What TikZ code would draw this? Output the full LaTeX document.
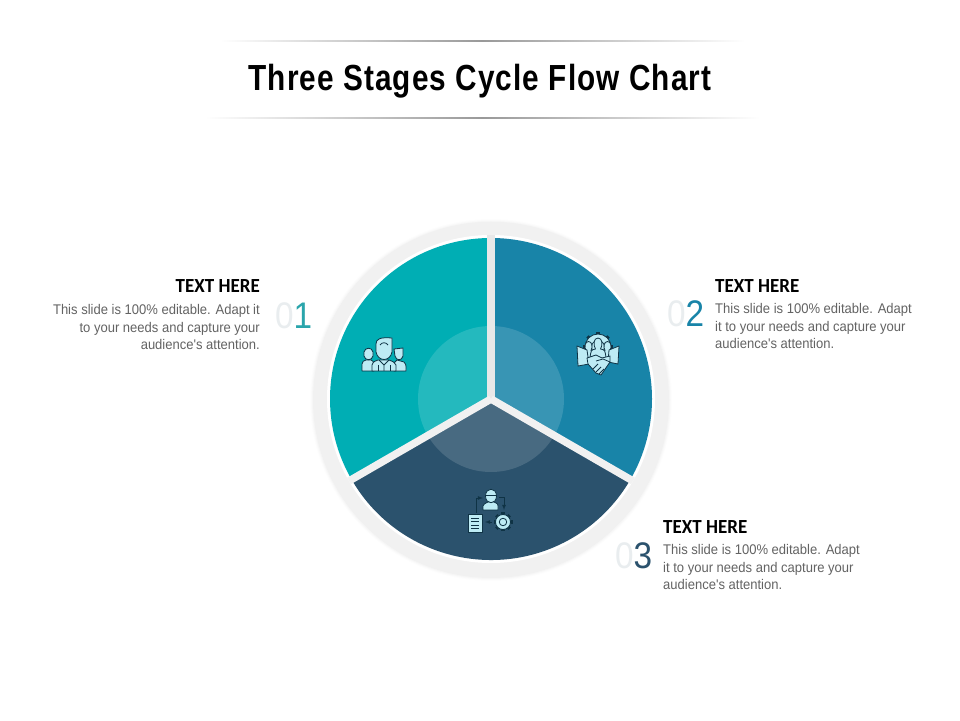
\documentclass[tikz,border=0pt]{standalone}
\usepackage{fontspec}
\setmainfont{Liberation Sans}
\newfontfamily\titlefont[FakeStretch=0.82,LetterSpace=3]{Liberation Sans}
\newfontfamily\headfont[FakeStretch=0.95]{Carlito}
\newfontfamily\bodyfont[FakeStretch=0.93]{Liberation Sans}
\newfontfamily\numfont[FakeStretch=0.9]{Liberation Sans}
\usetikzlibrary{positioning}

\definecolor{stageone}{HTML}{00AEB4}
\definecolor{stagetwo}{HTML}{1884A8}
\definecolor{stagethree}{HTML}{2B526D}
\definecolor{numone}{HTML}{2AA5AB}
\definecolor{ringgray}{HTML}{F1F1F1}
\definecolor{gapgray}{HTML}{E8E8E8}
\definecolor{bodygray}{HTML}{636363}
\definecolor{zerogray}{HTML}{E9EDEF}
\definecolor{iconfill}{HTML}{BDEBF4}
\definecolor{iconink}{HTML}{0F3345}

\tikzset{
    headtext/.style = {font = {\headfont\bfseries\fontsize{20}{22}\selectfont}, black, inner sep = 0pt},
    bodytext/.style = {font = {\bodyfont\fontsize{14}{17.7}\selectfont}, bodygray, inner sep = 0pt},
    numtext/.style = {font = {\numfont\fontsize{37}{40}\selectfont}, inner sep = 0pt},
    iconline/.style = {draw = iconink, fill = iconfill, line width = 0.8pt, line join = round},
    iconbare/.style = {draw = iconink, line width = 0.8pt, line join = round},
}

% gear in reference pixels: x, y, radius
\newcommand{\gearshape}[3]{
    \foreach \a in {0, 45, ..., 315} {
        \fill[iconink, shift = {(#1, #2)}, rotate = \a] (-1.6, #3 - 1) rectangle (1.6, #3 + 2);
    }
    \draw[iconline] (#1, #2) circle[radius = #3];
    \draw[iconbare] (#1, #2) circle[radius = #3 * 0.5];
}

\begin{document}
\begin{tikzpicture}[x = 1pt, y = 1pt]
    \useasboundingbox (0, 0) rectangle (960, 720);
    \fill[white] (0, 0) rectangle (960, 720);

    % title and its rules
    \node[font = {\titlefont\bfseries\fontsize{36.3}{40}\selectfont}, black, inner sep = 0pt] (title) at (480, 639) {Three Stages Cycle Flow Chart};
    \shade[left color = white, right color = gray!80] (220, 678.6) rectangle (482, 679.4);
    \shade[left color = gray!80, right color = white] (482, 678.6) rectangle (745, 679.4);
    \shade[left color = white, right color = gray!80] (205, 601.6) rectangle (482, 602.4);
    \shade[left color = gray!80, right color = white] (482, 601.6) rectangle (760, 602.4);

    % ring with soft shadow
    \foreach \r/\o in {181/0.008, 180/0.012, 179/0.016, 178/0.02} {
        \fill[black, opacity = \o] (491, 320) circle[radius = \r];
    }
    \fill[ringgray] (491, 321) circle[radius = 177];
    \fill[white] (491, 321) circle[radius = 164];

    % three stages
    \fill[stageone] (491, 321) -- ++(90:161) arc[start angle = 90, end angle = 210, radius = 161] -- cycle;
    \fill[stagetwo] (491, 321) -- ++(90:161) arc[start angle = 90, end angle = -30, radius = 161] -- cycle;
    \fill[stagethree] (491, 321) -- ++(210:161) arc[start angle = 210, end angle = 330, radius = 161] -- cycle;
    \fill[white, opacity = 0.14] (491, 321) circle[radius = 73];
    \draw[gapgray, line width = 7.5pt] (491, 321) -- ++(90:164);
    \draw[gapgray!60!white, line width = 7.5pt] (491, 321) -- ++(210:164);
    \draw[gapgray!60!white, line width = 7.5pt] (491, 321) -- ++(330:164);

    % texts
    \node[headtext, anchor = north east] (headone) at (260, 441) {TEXT HERE};
    \node[bodytext, anchor = north east, align = right] (bodyone) at (260, 416) {This slide is 100\% editable. Adapt it\\to your needs and capture your\\audience's attention.};
    \node[numtext, anchor = base west] (numlabelone) at (275, 391) {\textcolor{zerogray}{0}\textcolor{numone}{1}};

    \node[headtext, anchor = north west] (headtwo) at (715, 441) {TEXT HERE};
    \node[bodytext, anchor = north west, align = left] (bodytwo) at (715, 417) {This slide is 100\% editable. Adapt\\it to your needs and capture your\\audience's attention.};
    \node[numtext, anchor = base west] (numlabeltwo) at (667, 393) {\textcolor{zerogray}{0}\textcolor{stagetwo}{2}};

    \node[headtext, anchor = north west] (headthree) at (663, 200) {TEXT HERE};
    \node[bodytext, anchor = north west, align = left] (bodythree) at (663, 176) {This slide is 100\% editable. Adapt\\it to your needs and capture your\\audience's attention.};
    \node[numtext, anchor = base west] (numlabelthree) at (615, 152) {\textcolor{zerogray}{0}\textcolor{stagethree}{3}};

    % icons, in reference pixels
    \begin{scope}[shift = {(0, 720)}, y = -1pt]
        % people
        \draw[iconline] (362, 371) -- (362, 364) .. controls (363, 361) .. (366, 360) -- (371, 360) .. controls (373, 361) .. (374, 364) -- (374, 371) -- cycle;
        \draw[iconline] (364, 352) .. controls (365, 347) and (372, 347) .. (373, 352) -- (373, 356) .. controls (372, 361) and (365, 361) .. (364, 356) -- cycle;
        \draw[iconline] (394, 371) -- (394, 363) -- (397, 360) -- (404, 362) .. controls (406, 364) .. (406, 371) -- cycle;
        \draw[iconline] (394, 349) -- (403, 348) -- (403, 356) .. controls (402, 361) and (396, 361) .. (395, 356) -- cycle;
        \draw[iconline] (372, 371) -- (372, 365) .. controls (373, 362) .. (378, 360) -- (389, 360) .. controls (394, 362) .. (396, 365) -- (396, 371) -- cycle;
        \draw[iconline] (376, 344) .. controls (376, 339) and (380, 337) .. (392, 338) -- (392, 352) .. controls (390, 362) and (378, 362) .. (376, 352) -- cycle;
        \draw[iconbare] (380, 345) .. controls (382, 342) and (386, 342) .. (388, 345);
        \draw[iconbare] (379, 360) -- (384, 365) -- (389, 360) (384, 365) -- (384, 371);
        \draw[iconbare] (378, 365) -- (378, 371) (390, 365) -- (390, 371);

        % gear with people and handshake
        \gearshape{598}{347}{13}
        \draw[iconline] (582, 358) -- (582, 354) .. controls (583, 351) .. (586, 350.5) .. controls (584, 347) and (585, 341.5) .. (588.5, 341.5) .. controls (592, 341.5) and (593, 347) .. (591, 350.5) .. controls (594, 351) .. (595, 354) -- (595, 358) -- cycle;
        \draw[iconline] (601, 358) -- (601, 354) .. controls (602, 351) .. (605, 350.5) .. controls (603, 347) and (604, 341.5) .. (607.5, 341.5) .. controls (611, 341.5) and (612, 347) .. (610, 350.5) .. controls (613, 351) .. (614, 354) -- (614, 358) -- cycle;
        \draw[iconline] (598, 338) .. controls (593.5, 338) and (593, 345) .. (595.5, 349) .. controls (591, 350) .. (590, 358) -- (606, 358) .. controls (605, 350) .. (600.5, 349) .. controls (603, 345) and (602.5, 338) .. (598, 338) -- cycle;
        \draw[iconline] (577, 346) -- (587, 350) -- (589, 364) -- (578, 366) -- cycle;
        \draw[iconline] (619, 346) -- (609, 350) -- (608, 362) -- (618, 364) -- cycle;
        \draw[iconline] (587, 358) -- (596, 355) -- (602, 358) -- (610, 356) -- (610, 362) -- (601, 375) -- (596, 373) -- (588, 364) -- cycle;
        \draw[iconbare] (596, 361) -- (603, 359) -- (610, 362);
        \draw[iconbare] (593, 369) -- (598, 364) (596, 372) -- (601, 367) (599, 374) -- (604, 369);

        % worker, document and gear
        \draw[iconbare, -latex] (476, 513) -- (476, 498) -- (483, 498);
        \draw[iconbare, -latex] (499, 497) -- (504, 497) -- (504, 510);
        \draw[iconbare, -latex] (492, 522) -- (485, 522);
        \draw[iconline] (483, 510) -- (483, 506) .. controls (484, 504) .. (488, 502) -- (494, 502) .. controls (498, 504) .. (498, 506) -- (498, 510) -- cycle;
        \draw[iconline] (485.5, 496) .. controls (485.5, 487) and (496.5, 487) .. (496.5, 496) .. controls (496.5, 505) and (485.5, 505) .. (485.5, 496) -- cycle;
        \draw[iconbare] (485, 495) -- (497, 495);
        \draw[iconline] (468.5, 514) rectangle (482, 532);
        \draw[iconbare] (471, 518) -- (479, 518) (471, 521.5) -- (479, 521.5) (471, 525) -- (479, 525) (471, 528.5) -- (479, 528.5);
        \gearshape{503}{522}{7.5}
    \end{scope}
\end{tikzpicture}
\end{document}
